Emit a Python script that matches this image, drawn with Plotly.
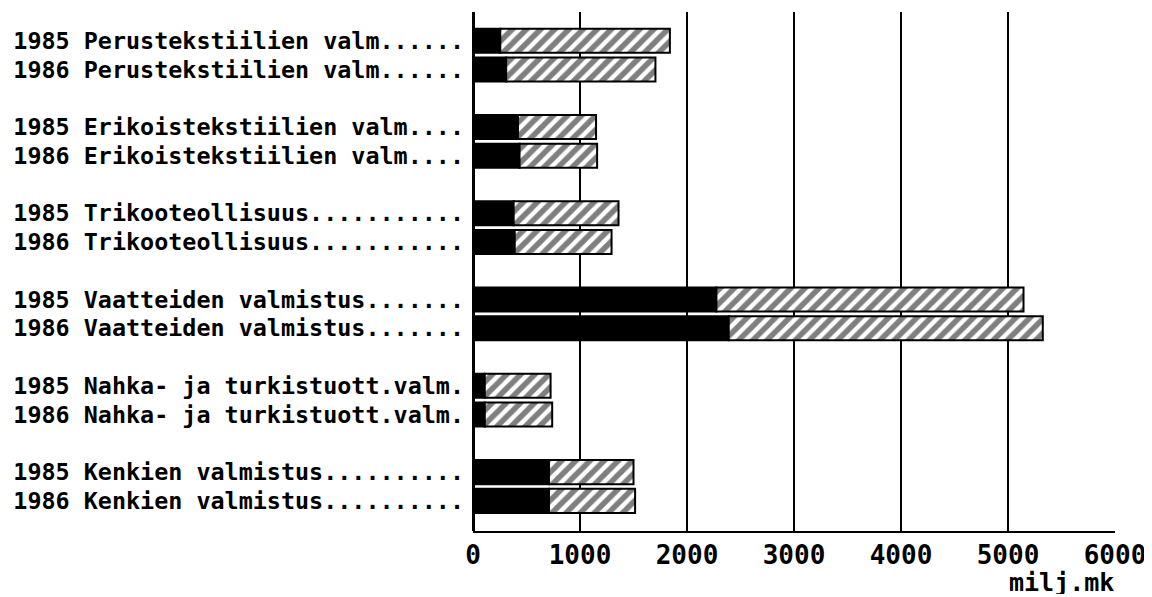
import plotly.graph_objects as go

industries = [
    "Perustekstiilien valm",
    "Erikoistekstiilien valm",
    "Trikooteollisuus",
    "Vaatteiden valmistus",
    "Nahka- ja turkistuott.valm",
    "Kenkien valmistus",
]
years = ["1985", "1986"]
labels = [
    "1985 Perustekstiilien valm......",
    "1986 Perustekstiilien valm......",
    "1985 Erikoistekstiilien valm....",
    "1986 Erikoistekstiilien valm....",
    "1985 Trikooteollisuus...........",
    "1986 Trikooteollisuus...........",
    "1985 Vaatteiden valmistus.......",
    "1986 Vaatteiden valmistus.......",
    "1985 Nahka- ja turkistuott.valm.",
    "1986 Nahka- ja turkistuott.valm.",
    "1985 Kenkien valmistus..........",
    "1986 Kenkien valmistus..........",
]
# black segment (milj.mk)
black_part = [255, 310, 420, 435, 380, 390, 2275, 2390, 110, 110, 710, 710]
# bar totals (milj.mk)
totals = [1840, 1705, 1150, 1160, 1360, 1295, 5145, 5325, 725, 740, 1500, 1515]
hatched_part = [t - b for t, b in zip(totals, black_part)]
x_ticks = [0, 1000, 2000, 3000, 4000, 5000, 6000]

# row positions: pairs of years, with a blank row between industry groups
ypos = [3 * g + i for g in range(len(industries)) for i in range(len(years))]

font_family = "DejaVu Sans Mono"

fig = go.Figure()
fig.add_trace(go.Bar(
    y=ypos, x=black_part, orientation="h", width=0.84,
    marker=dict(color="black", line=dict(color="black", width=2)),
    showlegend=False, hoverinfo="x",
))
fig.add_trace(go.Bar(
    y=ypos, x=hatched_part, base=black_part, orientation="h", width=0.84,
    marker=dict(color="white", line=dict(color="black", width=2),
                pattern=dict(shape="/", fgcolor="black", bgcolor="white",
                             size=10, solidity=0.55)),
    showlegend=False, hoverinfo="x",
))

fig.update_layout(
    width=1144, height=589,
    margin=dict(l=465, r=37, t=4, b=66, autoexpand=False),
    paper_bgcolor="white", plot_bgcolor="white",
    barmode="overlay",
    font=dict(family=font_family, color="black"),
    xaxis=dict(
        range=[0, 6000], tickvals=x_ticks, ticktext=[str(v) for v in x_ticks],
        showgrid=True, gridcolor="black", gridwidth=2,
        zeroline=True, zerolinecolor="black", zerolinewidth=3,
        showline=True, linecolor="black", linewidth=2,
        ticks="", automargin=False,
        tickfont=dict(size=26, family=font_family, weight="bold"),
    ),
    yaxis=dict(
        range=[17.05, -1], tickvals=ypos, ticktext=labels,
        showgrid=False, zeroline=False, showline=False, ticks="",
        ticklabelstandoff=8, automargin=False,
        tickfont=dict(size=23.4, family=font_family, weight="bold"),
    ),
    annotations=[dict(
        text="milj.mk", xref="paper", yref="paper", x=1, y=0,
        xanchor="right", yanchor="top", xshift=0, yshift=-38, showarrow=False,
        height=24, valign="middle", borderpad=0,
        font=dict(size=25, family=font_family, weight="bold"),
    )],
)

fig.write_html("out.html")
